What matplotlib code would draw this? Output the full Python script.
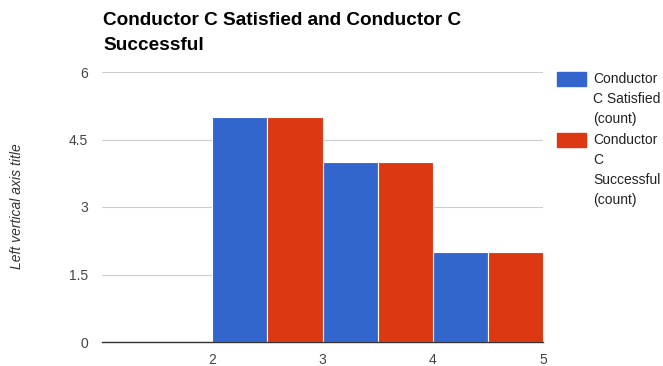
import matplotlib
matplotlib.use('Agg')
import matplotlib.pyplot as plt
from matplotlib.patches import Rectangle

# Data
positions = [2, 3, 4]
satisfied = [5, 4, 2]
successful = [5, 4, 2]
series_labels = ['Conductor\nC Satisfied\n(count)', 'Conductor\nC\nSuccessful\n(count)']
title_lines = ['Conductor C Satisfied and Conductor C', 'Successful']
y_ticks = [0, 1.5, 3, 4.5, 6]
y_tick_labels = ['0', '1.5', '3', '4.5', '6']
x_ticks = [2, 3, 4, 5]

blue = '#3366cc'
red = '#dc3912'

plt.rcParams['font.family'] = ['Liberation Sans', 'DejaVu Sans']

W, H = 663, 366
fig = plt.figure(figsize=(W / 100, H / 100), dpi=100)

def fx(px):
    return px / W

def fy(py):
    return 1 - py / H

ax = fig.add_axes([fx(102), fy(342), fx(441), 270 / H])

ax.bar(positions, satisfied, width=0.5, align='edge', color=blue,
       edgecolor='white', linewidth=0.8, zorder=3)
ax.bar([p + 0.5 for p in positions], successful, width=0.5, align='edge', color=red,
       edgecolor='white', linewidth=0.8, zorder=3)

ax.set_xlim(1, 5)
ax.set_ylim(0, 6)
ax.set_yticks(y_ticks)
ax.set_yticklabels(y_tick_labels)
ax.set_xticks(x_ticks)
ax.tick_params(length=0, labelsize=10, labelcolor='#444444')
ax.tick_params(axis='y', pad=10)
ax.tick_params(axis='x', pad=8)
ax.grid(axis='y', color='#cccccc', linewidth=0.8, zorder=0)
for side in ['top', 'right', 'left']:
    ax.spines[side].set_visible(False)
ax.spines['bottom'].set_color('#333333')
ax.spines['bottom'].set_linewidth(1.0)
ax.spines['bottom'].set_zorder(4)

# Title, two lines
fig.text(fx(103), fy(25), title_lines[0], fontsize=13.7, fontweight='bold',
         color='#000000', va='baseline', ha='left')
fig.text(fx(103), fy(50), title_lines[1], fontsize=13.7, fontweight='bold',
         color='#000000', va='baseline', ha='left')

# Vertical axis title
fig.text(fx(17.5), fy(206.5), 'Left vertical axis title', rotation=90,
         fontsize=10, style='italic', color='#333333', ha='center', va='center')

# Legend
swatch_tops = [72, 133]
for (top, label, color) in zip(swatch_tops, series_labels, [blue, red]):
    fig.add_artist(Rectangle((fx(557), fy(top + 14)), 29 / W, 14 / H,
                             transform=fig.transFigure, color=color))
    for i, line in enumerate(label.split('\n')):
        fig.text(fx(593), fy(top + 7 + 20 * i), line, fontsize=10,
                 color='#222222', ha='left', va='center')

fig.savefig('out.png', dpi=100)
